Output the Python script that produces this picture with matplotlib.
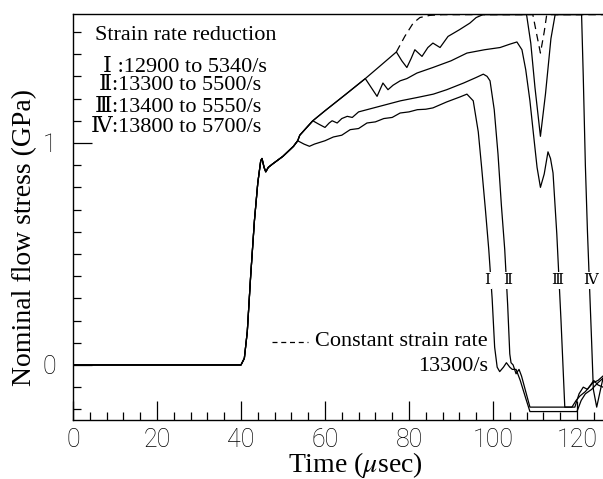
import numpy as np
import matplotlib
matplotlib.use("Agg")
import matplotlib.pyplot as plt
from matplotlib.ticker import MultipleLocator

# ---------------- data ----------------
# common curve (constant strain rate path) up to the first branch
main_t = [0, 40.0, 40.8, 41.5, 42.3, 43.2, 44.0, 44.7, 45.0, 45.5, 45.9, 46.5,
          47.5, 50.0, 52.5, 53.5, 54.0, 57.1, 60.0, 65.0, 69.6, 73.0, 77.0]
main_s = [0, 0.0, 0.03, 0.15, 0.40, 0.65, 0.82, 0.92, 0.93, 0.89, 0.87, 0.89,
          0.905, 0.94, 0.985, 1.01, 1.035, 1.10, 1.145, 1.22, 1.29, 1.345, 1.41]

# curve I : 12900 -> 5340 /s
I_branch = 53.5
I_t = [55.0, 56.3, 57.5, 60.0, 62.0, 64.0, 66.0, 68.0, 70.0, 72.0, 74.0, 76.0,
       77.9, 80.0, 82.0, 84.0, 85.7, 89.0, 92.1, 93.8, 95.3, 96.5, 97.3, 98.2,
       99.0, 99.8, 100.4, 101.0, 101.6, 102.5, 103.2, 104.0, 104.6, 105.5,
       106.5, 107.8, 108.8, 120.0, 121.0, 122.0, 123.5, 125.0, 126.2]
I_s = [0.995, 0.985, 0.995, 1.01, 1.027, 1.035, 1.06, 1.065, 1.09, 1.095, 1.11,
       1.115, 1.135, 1.14, 1.15, 1.152, 1.158, 1.185, 1.207, 1.22, 1.19, 1.05,
       0.89, 0.70, 0.52, 0.30, 0.08, -0.01, -0.03, -0.01, 0.01, -0.01, -0.02,
       -0.02, -0.07, -0.15, -0.21, -0.21, -0.16, -0.13, -0.11, -0.08, -0.06]

# curve II : 13300 -> 5500 /s
II_branch = 57.1
II_t = [58.5, 60.0, 61.0, 61.7, 62.9, 64.0, 65.3, 66.5, 68.0, 70.0, 72.0, 74.0,
        78.0, 82.0, 85.8, 89.0, 93.0, 96.0, 97.7, 98.6, 99.3, 100.3, 101.2,
        102.0, 102.8, 103.5, 104.0, 104.3, 104.8, 105.5, 106.2, 106.8, 107.8,
        108.8, 118.8, 119.8, 120.7, 122.0, 123.8, 125.0, 126.2]
II_s = [1.085, 1.07, 1.09, 1.10, 1.09, 1.11, 1.12, 1.115, 1.14, 1.15, 1.16,
        1.17, 1.19, 1.205, 1.22, 1.24, 1.27, 1.295, 1.31, 1.30, 1.28, 1.15, 0.95,
        0.72, 0.52, 0.27, 0.05, 0.01, 0.0, -0.04, -0.02, -0.05, -0.12, -0.19,
        -0.19, -0.16, -0.14, -0.12, -0.08, -0.07, -0.05]

# curve III : 13400 -> 5550 /s
III_branch = 69.6
III_t = [71.0, 72.4, 73.8, 75.0, 76.2, 77.9, 79.5, 81.9, 85.7, 90.0, 93.8, 98.0,
         101.7, 104.0, 105.7, 106.9, 107.8, 108.8, 109.7, 110.5, 111.3, 112.2,
         113.1, 113.7, 114.3, 115.2, 116.2, 117.1, 119.5, 120.5, 121.5, 122.5,
         124.0, 125.0, 126.2]
III_s = [1.25, 1.21, 1.27, 1.24, 1.26, 1.28, 1.29, 1.315, 1.34, 1.37, 1.405,
         1.42, 1.43, 1.445, 1.455, 1.42, 1.33, 1.19, 1.03, 0.89, 0.80, 0.86,
         0.96, 0.93, 0.865, 0.59, 0.20, -0.19, -0.19, -0.13, -0.10, -0.11,
         -0.07, -0.09, -0.10]

# curve IV : 13800 -> 5700 /s
IV_branch = 77.0
IV_t = [78.3, 79.5, 80.5, 81.4, 83.1, 84.5, 85.7, 87.4, 89.3, 92.0, 94.5, 96.0,
        97.6, 108.0, 109.0, 110.0, 111.3, 112.5, 113.8, 114.8, 121.1, 121.5,
        122.0, 122.5, 123.0, 123.5, 123.9, 124.7, 125.5, 126.2]
IV_s = [1.37, 1.34, 1.38, 1.42, 1.39, 1.43, 1.45, 1.43, 1.48, 1.51, 1.54,
        1.565, 1.578, 1.578, 1.45, 1.25, 1.03, 1.22, 1.47, 1.578, 1.578, 1.30,
        0.90, 0.60, 0.35, 0.10, -0.11, -0.19, -0.12, -0.06]

# constant strain rate 13300/s (dashed)
const_branch = 77.0
const_t = [79.0, 81.0, 82.6, 85.0, 88.0, 109.5, 110.3, 111.3, 112.2, 112.8, 126.2]
const_s = [1.48, 1.54, 1.565, 1.575, 1.578, 1.578, 1.50, 1.405, 1.50, 1.578, 1.578]

legend_title = "Strain rate reduction"
roman = ["Ⅰ", "Ⅱ", "Ⅲ", "Ⅳ"]
rate_text = [" :12900 to 5340/s", ":13300 to 5500/s", ":13400 to 5550/s",
             ":13800 to 5700/s"]
label_t = [98.6, 103.5, 115.2, 123.3]
label_s = 0.38

x_ticks = [0, 20, 40, 60, 80, 100, 120]
y_ticks = [0, 1]


def build(branch, tail_t, tail_s):
    mt = np.array(main_t)
    ms = np.array(main_s)
    keep = mt <= branch
    return (np.concatenate([mt[keep], tail_t]),
            np.concatenate([ms[keep], tail_s]))


# ---------------- figure ----------------
plt.rcParams["mathtext.fontset"] = "stix"
serif = ["Liberation Serif", "DejaVu Serif", "Noto Sans CJK JP"]
tick_font = ["Roboto", "DejaVu Sans"]

fig = plt.figure(figsize=(6.03, 4.79), dpi=100)
ax = fig.add_axes([73 / 603, 1 - 420 / 479, 530 / 603, 406 / 479])

lw = 0.9
for br, tt, ss in [(I_branch, I_t, I_s), (II_branch, II_t, II_s),
                   (III_branch, III_t, III_s), (IV_branch, IV_t, IV_s)]:
    x, y = build(br, tt, ss)
    ax.plot(x, y, color="black", lw=lw, solid_joinstyle="round")
x, y = build(const_branch, const_t, const_s)
m = x >= const_branch
ax.plot(x[m], y[m], color="black", lw=lw, ls=(0, (6, 4)))

ax.set_xlim(0, 126.2)
ax.set_ylim(-0.248, 1.581)

ax.spines["right"].set_visible(False)
for sp in ["left", "bottom", "top"]:
    ax.spines[sp].set_linewidth(1.0)

ax.set_xticks(x_ticks)
ax.set_yticks(y_ticks)
ax.xaxis.set_minor_locator(MultipleLocator(4))
ax.yaxis.set_minor_locator(MultipleLocator(0.1))
ax.tick_params(which="both", direction="in", top=False, right=False, width=0.9)
ax.tick_params(which="major", length=14)
ax.tick_params(which="minor", length=6)
ax.tick_params(axis="x", which="major", pad=6)
ax.tick_params(axis="y", which="major", pad=12)
for lab in ax.get_xticklabels() + ax.get_yticklabels():
    lab.set_fontfamily(tick_font)
    lab.set_fontweight("light")
    lab.set_fontsize(18)

ax.set_xlabel(r"Time ($\mu$sec)", fontsize=20, family=serif)
ax.set_ylabel("Nominal flow stress (GPa)", fontsize=20, family=serif)
ax.xaxis.set_label_coords((355 - 73) / 530, (420 - 450) / 406)
ax.yaxis.set_label_coords((37 - 73) / 530, (420 - 237.5) / 406)

# legend text block
ax.text(5.2, 1.486, legend_title, fontsize=16, family=serif, va="center", ha="left")
ys = [1.342, 1.257, 1.162, 1.068]
for r, txt, yy in zip(roman, rate_text, ys):
    ax.text(9.3, yy, r, fontsize=16, family=serif, va="center", ha="right")
    ax.text(9.3, yy, txt, fontsize=16, family=serif, va="center", ha="left")

# roman numeral labels on curves
for r, lt in zip(roman, label_t):
    ax.text(lt, label_s, r, fontsize=11, family=serif, ha="center", va="center",
            bbox=dict(facecolor="white", edgecolor="none", pad=1.5))

# constant strain rate legend
ax.plot([47.4, 56.0], [0.104, 0.104], color="black", lw=lw, ls=(0, (4, 3)))
ax.text(98.8, 0.104, "Constant strain rate", fontsize=16, family=serif,
        ha="right", va="center")
ax.text(98.8, -0.005, "13300/s", fontsize=16, family=serif, ha="right", va="center")

fig.savefig("out.png", dpi=100)
